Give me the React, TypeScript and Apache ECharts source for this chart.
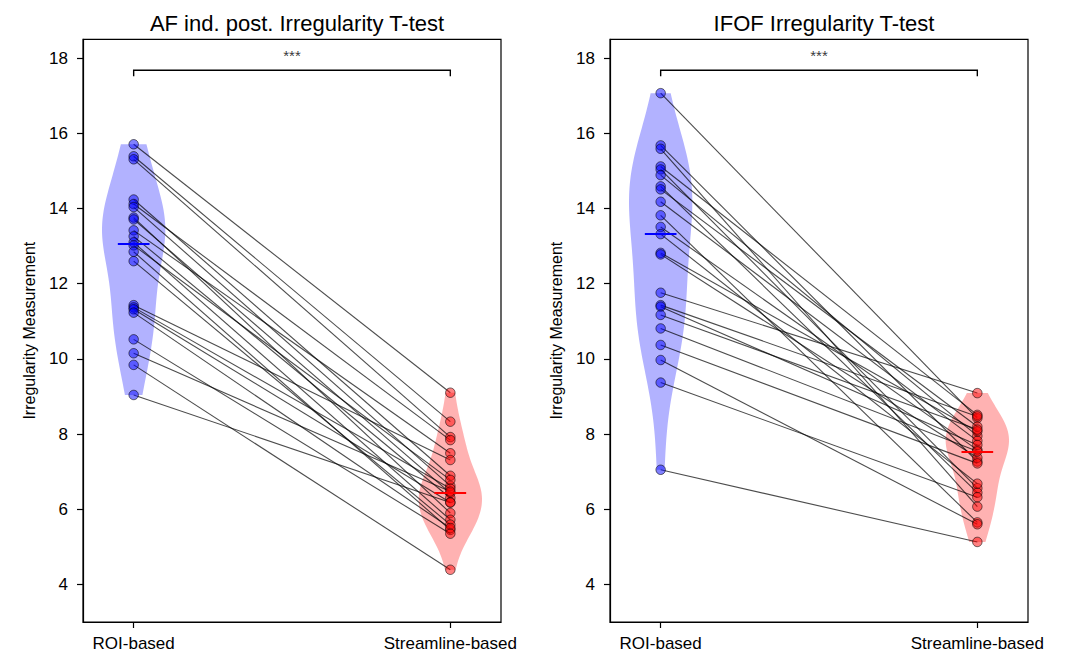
import React, { useEffect, useRef } from "react";
import * as echarts from "echarts";

const groups = ["ROI-based", "Streamline-based"];
const titles = ["AF ind. post. Irregularity T-test", "IFOF Irregularity T-test"];
const yLabel = "Irregularity Measurement";
const sigLabel = "***";
const yTicks = [4, 6, 8, 10, 12, 14, 16, 18];

// paired per subject (same index = same subject)
const afRoi = [15.71, 15.39, 15.31, 14.24, 14.12, 14.04, 13.76, 13.71, 13.42, 13.26, 13.1, 13.02, 12.85, 12.6, 11.43, 11.37, 11.32, 11.23, 10.52, 10.15, 9.84, 9.04];
const afStream = [9.1, 8.33, 7.92, 6.89, 7.84, 6.62, 5.9, 6.43, 7.49, 6.3, 5.72, 6.78, 5.45, 5.59, 7.31, 6.55, 6.18, 5.5, 5.35, 6.47, 4.39, 6.18];
const ifofRoi = [17.07, 15.68, 15.59, 15.12, 15.04, 14.89, 14.59, 14.51, 14.18, 13.82, 13.51, 13.32, 12.82, 12.78, 11.76, 11.43, 11.39, 11.17, 10.81, 10.37, 9.97, 9.37, 7.05];
const ifofStream = [8.42, 7.27, 6.07, 8.51, 6.56, 7.95, 6.44, 8.2, 7.82, 5.65, 7.58, 6.68, 8.07, 7.37, 9.09, 8.47, 7.71, 8.12, 7.54, 7.22, 5.6, 6.32, 5.13];

const panels = [
  { roi: afRoi, stream: afStream },
  { roi: ifofRoi, stream: ifofStream },
];

const FONT = "'Liberation Sans', Arial, Helvetica, sans-serif";

function median(a: number[]) {
  const s = [...a].sort((x, y) => x - y);
  const n = s.length;
  return n % 2 ? s[(n - 1) / 2] : (s[n / 2 - 1] + s[n / 2]) / 2;
}

function kdeShape(vals: number[], pos: number, halfWidth: number) {
  const n = vals.length;
  const m = vals.reduce((a, b) => a + b, 0) / n;
  const sd = Math.sqrt(vals.reduce((a, b) => a + (b - m) * (b - m), 0) / (n - 1));
  const h = sd * Math.pow(n, -0.2);
  const lo = Math.min(...vals);
  const hi = Math.max(...vals);
  const steps = 100;
  const ys: number[] = [];
  const ds: number[] = [];
  for (let i = 0; i < steps; i++) {
    const y = lo + ((hi - lo) * i) / (steps - 1);
    let d = 0;
    for (const v of vals) d += Math.exp(-0.5 * ((y - v) / h) ** 2);
    ys.push(y);
    ds.push(d);
  }
  const mx = Math.max(...ds);
  const left: number[][] = [];
  const right: number[][] = [];
  for (let i = 0; i < steps; i++) {
    const w = (ds[i] / mx) * halfWidth;
    left.push([pos - w, ys[i]]);
    right.push([pos + w, ys[i]]);
  }
  return left.concat(right.reverse());
}

export default function App() {
  const ref = useRef<HTMLDivElement>(null);
  useEffect(() => {
    document.body.style.margin = "0";
    const chart = echarts.init(ref.current!, null, { renderer: "svg" });
    const gridLefts = [83, 610];
    const gridW = 418;
    const grids = gridLefts.map((l) => ({
      left: l,
      top: 39.4,
      width: gridW,
      height: 582.6,
      show: true,
      borderColor: "#000",
      borderWidth: 1.2,
      backgroundColor: "transparent",
    }));
    const xAxes = gridLefts.map((_, i) => ({
      type: "value",
      gridIndex: i,
      min: -0.16,
      max: 1.16,
      splitLine: { show: false },
      axisLine: { show: true, onZero: false, lineStyle: { color: "#000", width: 1.2 } },
      axisTick: { show: true, customValues: [0, 1], length: 6, lineStyle: { color: "#000", width: 1.2 } },
      axisLabel: {
        customValues: [0, 1],
        formatter: (v: number) => groups[Math.round(v)],
        color: "#000",
        fontSize: 17,
        fontFamily: FONT,
        margin: 13,
      },
    }));
    const yAxes = gridLefts.map((_, i) => ({
      type: "value",
      gridIndex: i,
      min: 3,
      max: 18.5,
      name: yLabel,
      nameLocation: "middle",
      nameGap: 46,
      nameTextStyle: { color: "#000", fontSize: 16, fontFamily: FONT },
      splitLine: { show: false },
      axisLine: { show: true, onZero: false, lineStyle: { color: "#000", width: 1.2 } },
      axisTick: { show: true, customValues: yTicks, length: 6, lineStyle: { color: "#000", width: 1.2 } },
      axisLabel: {
        customValues: yTicks,
        color: "#000",
        fontSize: 17,
        fontFamily: FONT,
        margin: 15,
      },
    }));

    const series: any[] = [];
    panels.forEach((p, i) => {
      const shapes = [kdeShape(p.roi, 0, 0.1), kdeShape(p.stream, 1, 0.1)];
      const fills = ["rgba(0,0,255,0.3)", "rgba(255,0,0,0.3)"];
      series.push({
        type: "custom",
        xAxisIndex: i,
        yAxisIndex: i,
        silent: true,
        z: 1,
        data: [[0, median(p.roi)], [1, median(p.stream)]],
        renderItem: (params: any, api: any) => {
          const k = params.dataIndex;
          return {
            type: "polygon",
            shape: { points: shapes[k].map((pt) => api.coord(pt)) },
            style: { fill: fills[k] },
          };
        },
      });
      series.push({
        type: "lines",
        coordinateSystem: "cartesian2d",
        xAxisIndex: i,
        yAxisIndex: i,
        silent: true,
        z: 2,
        lineStyle: { color: "rgba(0,0,0,0.7)", width: 1.1, opacity: 1 },
        data: p.roi.map((r, j) => ({ coords: [[0, r], [1, p.stream[j]]] })),
      });
      series.push({
        type: "scatter",
        xAxisIndex: i,
        yAxisIndex: i,
        silent: true,
        z: 3,
        symbolSize: 9.5,
        itemStyle: { color: "rgba(0,0,255,0.62)", borderColor: "rgba(0,0,0,0.7)", borderWidth: 1 },
        data: p.roi.map((v) => [0, v]),
      });
      series.push({
        type: "scatter",
        xAxisIndex: i,
        yAxisIndex: i,
        silent: true,
        z: 3,
        symbolSize: 9.5,
        itemStyle: { color: "rgba(255,0,0,0.62)", borderColor: "rgba(0,0,0,0.7)", borderWidth: 1 },
        data: p.stream.map((v) => [1, v]),
      });
      const mr = median(p.roi);
      const ms = median(p.stream);
      series.push({
        type: "lines",
        coordinateSystem: "cartesian2d",
        xAxisIndex: i,
        yAxisIndex: i,
        silent: true,
        z: 4,
        lineStyle: { width: 2.2, opacity: 1 },
        data: [
          { coords: [[-0.05, mr], [0.05, mr]], lineStyle: { color: "#0000ff", width: 2.2 } },
          { coords: [[0.95, ms], [1.05, ms]], lineStyle: { color: "#ff0000", width: 2.2 } },
        ],
      });
      series.push({
        type: "lines",
        coordinateSystem: "cartesian2d",
        polyline: true,
        xAxisIndex: i,
        yAxisIndex: i,
        silent: true,
        z: 4,
        lineStyle: { color: "#000", width: 1.4, opacity: 1 },
        data: [{ coords: [[0, 17.52], [0, 17.68], [1, 17.68], [1, 17.52]] }],
      });
      series.push({
        type: "scatter",
        xAxisIndex: i,
        yAxisIndex: i,
        silent: true,
        z: 4,
        symbolSize: 1,
        itemStyle: { color: "rgba(0,0,0,0)" },
        label: {
          show: true,
          position: "inside",
          formatter: sigLabel,
          color: "#000",
          textBorderWidth: 0,
          fontSize: 15,
          fontFamily: FONT,
        },
        data: [[0.5, 18.08]],
      });
    });

    chart.setOption({
      animation: false,
      backgroundColor: "#fff",
      title: titles.map((t, i) => ({
        text: t,
        left: gridLefts[i] + gridW / 2,
        top: 7,
        textAlign: "center",
        textStyle: { color: "#000", fontSize: 22, fontWeight: "normal", fontFamily: FONT },
      })),
      grid: grids,
      xAxis: xAxes,
      yAxis: yAxes,
      series,
    });
    return () => chart.dispose();
  }, []);
  return <div ref={ref} style={{ width: 1066, height: 657 }} />;
}
